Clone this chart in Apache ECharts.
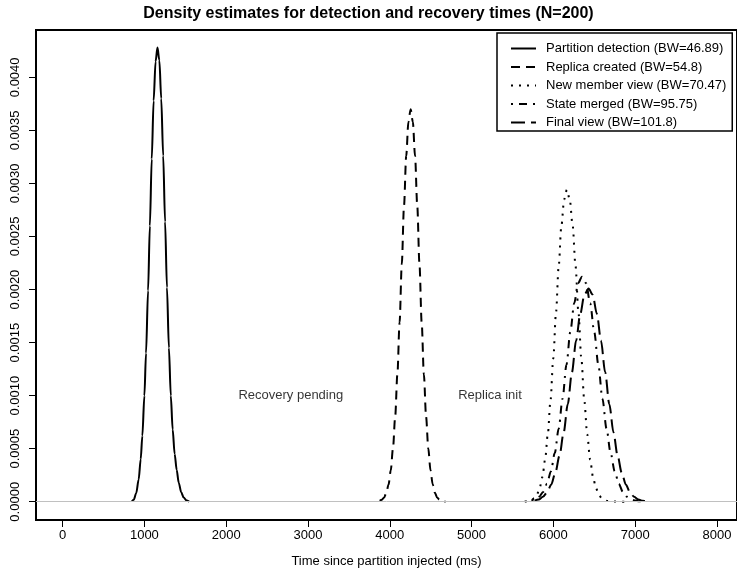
<!DOCTYPE html>
<html>
<head>
<meta charset="utf-8">
<title>Density estimates</title>
<script src="https://cdn.jsdelivr.net/npm/echarts@6/dist/echarts.min.js"></script>
<style>
  html, body { margin: 0; padding: 0; background: #fff; }
  #chart { width: 737px; height: 580px; }
</style>
</head>
<body>
<div id="chart"></div>
<script>
// tick labels
const xTicks = [0, 1000, 2000, 3000, 4000, 5000, 6000, 7000, 8000];
const yTicks = [0, 0.0005, 0.001, 0.0015, 0.002, 0.0025, 0.003, 0.0035, 0.004];

const seriesNames = [
  'Partition detection (BW=46.89)',
  'Replica created (BW=54.8)',
  'New member view (BW=70.47)',
  'State merged (BW=95.75)',
  'Final view (BW=101.8)'
];

// density curves (x in ms, y density)
const detectX = [846, 870, 900, 930, 955, 975, 1000, 1020, 1045, 1067, 1090, 1113, 1137, 1160, 1183, 1206, 1230, 1253, 1276, 1300, 1323, 1346, 1370, 1395, 1420, 1450, 1480, 1515, 1548];
const detectY = [0.000002, 0.00002, 0.00008, 0.00021, 0.0004, 0.00062, 0.001, 0.0014, 0.00199, 0.0026, 0.00323, 0.00378, 0.00415, 0.00428, 0.00416, 0.0038, 0.00326, 0.00264, 0.00202, 0.00145, 0.001, 0.00068, 0.00045, 0.0003, 0.00018, 0.00009, 0.00004, 0.000012, 0.000002];

const replicaX = [3877, 3904, 3931, 3958, 3985, 4012, 4039, 4066, 4093, 4120, 4147, 4174, 4201, 4228, 4255, 4282, 4309, 4336, 4363, 4390, 4417, 4444, 4471, 4498, 4525, 4552, 4579, 4606, 4633, 4660, 4682];
const replicaY = [0.000008, 0.000019, 0.000041, 0.000084, 0.000162, 0.000295, 0.000501, 0.0008, 0.0012, 0.00169, 0.00224, 0.00279, 0.00326, 0.00358, 0.0037, 0.00358, 0.00326, 0.00279, 0.00224, 0.00169, 0.0012, 0.0008, 0.000501, 0.000295, 0.000162, 0.000084, 0.000041, 0.000019, 0.000008, 0.000003, 0.000001];

const memberX = [5650, 5699, 5733, 5766, 5799, 5832, 5866, 5899, 5932, 5965, 5999, 6032, 6065, 6098, 6132, 6165, 6200, 6236, 6271, 6307, 6342, 6378, 6414, 6449, 6485, 6520, 6556, 6591, 6627, 6662, 6698, 6760, 6870];
const memberY = [0.000002, 0.000007, 0.000015, 0.000033, 0.000067, 0.000129, 0.000234, 0.000398, 0.000636, 0.000955, 0.00135, 0.00178, 0.00222, 0.0026, 0.00285, 0.00294, 0.00285, 0.0026, 0.00222, 0.00178, 0.00135, 0.000955, 0.000636, 0.000398, 0.000234, 0.000129, 0.000067, 0.000033, 0.000015, 0.000007, 0.000004, 0.000002, 0.0000005];

const mergedX = [5732, 5780, 5827, 5875, 5922, 5970, 6017, 6065, 6112, 6160, 6207, 6255, 6302, 6350, 6400, 6450, 6500, 6550, 6600, 6650, 6700, 6750, 6800, 6850, 6900, 6950, 7000, 7050, 7100];
const mergedY = [0.000011, 0.000024, 0.000048, 0.000093, 0.000169, 0.000287, 0.000459, 0.000688, 0.000971, 0.00129, 0.0016, 0.00187, 0.00206, 0.00212, 0.00206, 0.00187, 0.0016, 0.00129, 0.000971, 0.000688, 0.000459, 0.000287, 0.000169, 0.000093, 0.000048, 0.000024, 0.000011, 0.000005, 0.000002];

const finalX = [5770, 5821, 5872, 5923, 5973, 6024, 6075, 6126, 6176, 6227, 6278, 6329, 6379, 6430, 6481, 6532, 6582, 6633, 6684, 6735, 6785, 6836, 6887, 6938, 6988, 7039, 7090, 7141, 7191];
const finalY = [0.00001, 0.000022, 0.000046, 0.000088, 0.00016, 0.000272, 0.000435, 0.000653, 0.00092, 0.00122, 0.00152, 0.00177, 0.00195, 0.00201, 0.00195, 0.00177, 0.00152, 0.00122, 0.00092, 0.000653, 0.000435, 0.000272, 0.00016, 0.000088, 0.000046, 0.000022, 0.00001, 0.000004, 0.000002];

// text notes in the plot
const noteLabels = ['Recovery pending', 'Replica init'];
const noteX = [2790, 5225];
const noteY = [0.001, 0.001];

const curveX = [detectX, replicaX, memberX, mergedX, finalX];
const curveY = [detectY, replicaY, memberY, mergedY, finalY];
const dashes = ['solid', [9, 6], [2, 6], [2, 6, 8, 6], [14, 6]];

const font = "'Liberation Sans', Arial, sans-serif";
const chart = echarts.init(document.getElementById('chart'));

const series = curveX.map((xs, i) => ({
  name: seriesNames[i],
  type: 'line',
  data: xs.map((x, j) => [x, curveY[i][j]]),
  symbol: 'none',
  smooth: 0.3,
  smoothMonotone: 'x',
  z: 3,
  lineStyle: { color: '#000', width: 2, type: dashes[i] },
  itemStyle: { color: '#000' }
}));

// grey zero line
series.push({
  name: 'zero',
  type: 'line',
  data: [],
  z: 1,
  markLine: {
    silent: true,
    symbol: 'none',
    label: { show: false },
    lineStyle: { color: '#c0c0c0', width: 1, type: 'solid' },
    data: [{ yAxis: 0 }]
  }
});

series.push({
  name: 'notes',
  type: 'scatter',
  symbolSize: 0,
  z: 4,
  data: noteLabels.map((t, i) => ({ value: [noteX[i], noteY[i]], name: t })),
  label: {
    show: true,
    position: 'inside',
    formatter: p => p.name,
    color: '#000',
    fontSize: 13,
    fontFamily: font
  }
});

const axisLine = { show: true, onZero: false, lineStyle: { color: '#000', width: 2 } };
const tick = { show: true, inside: false, length: 7, lineStyle: { color: '#000', width: 1 } };

const option = {
  animation: false,
  backgroundColor: '#fff',
  title: {
    text: 'Density estimates for detection and recovery times (N=200)',
    left: 'center',
    top: 6,
    padding: [0, 0, 0, 36],
    textStyle: { fontSize: 16, fontWeight: 'bold', color: '#000', fontFamily: font }
  },
  legend: {
    data: seriesNames,
    orient: 'vertical',
    left: 497,
    top: 33,
    padding: [9, 6, 2, 13],
    itemWidth: 25,
    itemHeight: 12,
    itemGap: 5.5,
    backgroundColor: '#fff',
    borderColor: '#000',
    borderWidth: 1.5,
    borderRadius: 0,
    itemStyle: { opacity: 0 },
    textStyle: { fontSize: 13, color: '#000', fontFamily: font, padding: [0, 0, 0, 5] }
  },
  grid: {
    left: 36,
    right: -4,
    top: 30,
    bottom: 60,
    show: true,
    borderColor: '#000',
    borderWidth: 2,
    backgroundColor: 'transparent'
  },
  xAxis: {
    type: 'value',
    min: -325,
    max: 8245,
    name: 'Time since partition injected (ms)',
    nameLocation: 'middle',
    nameGap: 35,
    nameTextStyle: { fontSize: 13, color: '#000', fontFamily: font },
    axisLine: axisLine,
    splitLine: { show: false },
    axisTick: Object.assign({ customValues: xTicks }, tick),
    axisLabel: { customValues: xTicks, color: '#000', fontSize: 13, margin: 9, fontFamily: font, formatter: v => String(v) }
  },
  yAxis: {
    type: 'value',
    min: -0.000172,
    max: 0.004446,
    axisLine: axisLine,
    splitLine: { show: false },
    axisTick: Object.assign({ customValues: yTicks }, tick),
    axisLabel: {
      customValues: yTicks,
      rotate: 90,
      color: '#000',
      fontSize: 13,
      margin: 14,
      fontFamily: font,
      formatter: v => v.toFixed(4)
    }
  },
  series: series
};

chart.setOption(option);
</script>
</body>
</html>
